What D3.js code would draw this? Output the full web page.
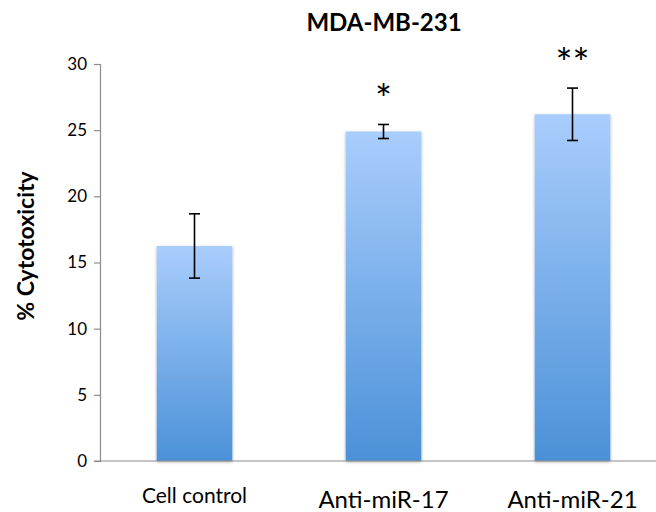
<!DOCTYPE html>
<html>
<head>
<meta charset="utf-8">
<script src="https://cdn.jsdelivr.net/npm/d3@7"></script>
<style>
  html, body { margin: 0; padding: 0; background: #fff; }
  svg { display: block; }
  text { font-family: Lato, "Open Sans", sans-serif; fill: #000; }
</style>
</head>
<body>
<svg id="chart" width="656" height="512"></svg>
<script>
// Cytotoxicity in MDA-MB-231 cells, mean ± error per treatment
const categories = ["Cell control", "Anti-miR-17", "Anti-miR-21"];
const means = [16.25, 24.9, 26.2];
const errors = [2.43, 0.53, 1.98];
const significance = ["", "*", "**"];
const yTicks = [0, 5, 10, 15, 20, 25, 30];

const svg = d3.select("#chart");
const margin = { left: 100, top: 64, bottom: 461 };

const x = d3.scaleBand()
  .domain(categories)
  .range([margin.left, margin.left + 567])
  .paddingInner(0.6)
  .paddingOuter(0.3);

const y = d3.scaleLinear().domain([0, 30]).range([margin.bottom, margin.top]);

// bar fill: light blue at the top fading to a deeper blue
const defs = svg.append("defs");
const grad = defs.append("linearGradient")
  .attr("id", "barFill").attr("x1", 0).attr("y1", 0).attr("x2", 0).attr("y2", 1);
grad.append("stop").attr("offset", "0%").attr("stop-color", "#a9cdfc");
grad.append("stop").attr("offset", "100%").attr("stop-color", "#4b91d8");

const shadow = defs.append("filter").attr("id", "barShadow")
  .attr("x", "-20%").attr("y", "-5%").attr("width", "140%").attr("height", "115%");
shadow.append("feDropShadow")
  .attr("dx", 0).attr("dy", 1).attr("stdDeviation", 1.6)
  .attr("flood-color", "#000").attr("flood-opacity", 0.35);

// title
svg.append("text")
  .attr("x", 384).attr("y", 31)
  .attr("text-anchor", "middle")
  .style("font-weight", "bold").style("font-size", "24px")
  .text("MDA-MB-231");

// y axis title
svg.append("text")
  .attr("transform", "translate(34,246) rotate(-90)")
  .attr("text-anchor", "middle")
  .style("font-weight", "bold").style("font-size", "23px")
  .text("% Cytotoxicity");

// bars
svg.append("g").selectAll("rect")
  .data(categories)
  .join("rect")
  .attr("x", d => x(d))
  .attr("width", x.bandwidth())
  .attr("y", (d, i) => y(means[i]))
  .attr("height", (d, i) => y(0) - y(means[i]))
  .attr("fill", "url(#barFill)")
  .attr("filter", "url(#barShadow)");

// y axis
const yAxis = svg.append("g")
  .attr("transform", `translate(${margin.left},0)`)
  .call(d3.axisLeft(y).tickValues(yTicks).tickSize(6).tickPadding(7).tickFormat(d3.format("d")));
yAxis.select(".domain").attr("stroke", "#8c8c8c").attr("stroke-width", 1.2);
yAxis.selectAll(".tick line").attr("stroke", "#8c8c8c").attr("stroke-width", 1.2);
yAxis.selectAll(".tick text").style("font-size", "17px").style("font-family", "Lato, sans-serif").attr("fill", "#000");

// x axis baseline
svg.append("line")
  .attr("x1", margin.left - 6).attr("x2", 656)
  .attr("y1", y(0)).attr("y2", y(0))
  .attr("stroke", "#8c8c8c").attr("stroke-width", 1.2);

// category labels
svg.append("g").selectAll("text")
  .data(categories)
  .join("text")
  .attr("x", d => x(d) + x.bandwidth() / 2)
  .attr("y", (d, i) => i === 0 ? 503 : 508)
  .attr("text-anchor", "middle")
  .style("font-size", (d, i) => i === 0 ? "21px" : "24px")
  .text(d => d);

// error bars
const eb = svg.append("g").attr("stroke", "#000").attr("stroke-width", 1.6);
categories.forEach((c, i) => {
  const cx = x(c) + x.bandwidth() / 2;
  const top = y(means[i] + errors[i]);
  const bot = y(means[i] - errors[i]);
  eb.append("line").attr("x1", cx).attr("x2", cx).attr("y1", top).attr("y2", bot);
  eb.append("line").attr("x1", cx - 5.5).attr("x2", cx + 5.5).attr("y1", top).attr("y2", top);
  eb.append("line").attr("x1", cx - 5.5).attr("x2", cx + 5.5).attr("y1", bot).attr("y2", bot);
});

// significance markers above the error bars
svg.append("g").selectAll("text")
  .data(categories)
  .join("text")
  .attr("x", d => x(d) + x.bandwidth() / 2)
  .attr("y", (d, i) => y(means[i] + errors[i]) - 10)
  .attr("text-anchor", "middle")
  .style("font-size", "40px")
  .text((d, i) => significance[i]);
</script>
</body>
</html>
